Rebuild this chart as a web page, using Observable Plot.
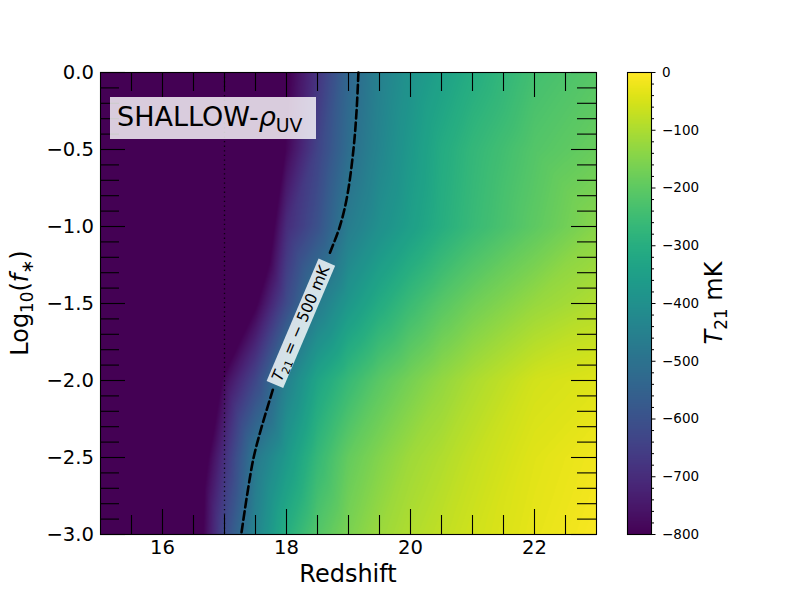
<!DOCTYPE html>
<html>
<head>
<meta charset="utf-8">
<script src="https://cdn.jsdelivr.net/npm/d3@7"></script>
<script src="https://cdn.jsdelivr.net/npm/@observablehq/plot@0.6"></script>
<style>
  body { margin: 0; background: #fff; }
  #wrap { position: relative; width: 800px; height: 600px; font-family: "DejaVu Sans", sans-serif; }
  #wrap > svg { position: absolute; top: 0; overflow: visible; }
</style>
</head>
<body>
<div id="wrap"></div>
<script>
// ---- data ----
const redshifts = [15, 16, 16.5, 17, 17.5, 18, 18.5, 19, 19.5, 20, 20.5, 21, 22, 23];
const logFstar  = [0, -0.5, -1, -1.5, -2, -2.5, -3];
// T21 (mK) along each log10(f*) row, at the redshifts above
const t21_f0    = [-1000,-1000,-1000,-1000,-960,-810,-680,-535,-450,-390,-345,-305,-240,-210];
const t21_fm05  = [-1000,-1000,-1000,-1000,-950,-790,-640,-515,-435,-370,-310,-270,-215,-185];
const t21_fm10  = [-1000,-1000,-1000,-1000,-950,-700,-600,-465,-400,-350,-300,-260,-200,-145];
const t21_fm15  = [-1000,-1000,-1000,-1000,-810,-620,-470,-375,-310,-255,-210,-175,-125,-95];
const t21_fm20  = [-1000,-1000,-1000,-780,-630,-450,-330,-260,-205,-165,-130,-100,-55,-40];
const t21_fm25  = [-1000,-1000,-900,-690,-480,-370,-265,-190,-150,-115,-95,-72,-38,-18];
const t21_fm30  = [-1000,-1000,-880,-620,-440,-300,-215,-160,-120,-95,-75,-58,-30,-8];
const t21Rows = [t21_f0, t21_fm05, t21_fm10, t21_fm15, t21_fm20, t21_fm25, t21_fm30];

// T21 = -500 mK contour (two pieces, split by the label)
const contourUpperZ = [19.16, 19.13, 19.08, 18.98, 18.86, 18.68];
const contourUpperF = [0, -0.25, -0.5, -0.8, -1.0, -1.19];
const contourLowerZ = [17.78, 17.6, 17.47, 17.37, 17.27];
const contourLowerF = [-2.06, -2.3, -2.5, -2.73, -3.0];
const contourLabel = {z: 18.24, f: -1.632, text: "= − 500 mK"};

const dottedZ = [17];

const xMajorTicks = [16, 18, 20, 22];
const xMinorTicks = [15.5, 16.5, 17, 17.5, 18.5, 19, 19.5, 20.5, 21, 21.5, 22.5];
const yMajorTicks = [0, -0.5, -1, -1.5, -2, -2.5, -3];
const yMinorTicks = [-0.1,-0.2,-0.3,-0.4,-0.6,-0.7,-0.8,-0.9,-1.1,-1.2,-1.3,-1.4,-1.6,-1.7,-1.8,-1.9,-2.1,-2.2,-2.3,-2.4,-2.6,-2.7,-2.8,-2.9];
const cbMajorTicks = [0, -100, -200, -300, -400, -500, -600, -700, -800];
const cbMinorTicks = [-20,-40,-60,-80,-120,-140,-160,-180,-220,-240,-260,-280,-320,-340,-360,-380,-420,-440,-460,-480,-520,-540,-560,-580,-620,-640,-660,-680,-720,-740,-760,-780];

// ---- build table ----
const grid = [];
logFstar.forEach((f, i) => redshifts.forEach((z, j) => grid.push({z, f, t: t21Rows[i][j]})));
const upper = contourUpperZ.map((z, i) => ({z, f: contourUpperF[i]}));
const lower = contourLowerZ.map((z, i) => ({z, f: contourLowerF[i]}));

const W = 800, H = 600;
const mL = 100, mR = 204, mT = 72, mB = 66;
const fw = W - mL - mR, fh = H - mT - mB;
const colorOpts = {type: "linear", scheme: "viridis", domain: [-800, 0], clamp: true};

const main = Plot.plot({
  width: W, height: H,
  marginLeft: mL, marginRight: mR, marginTop: mT, marginBottom: mB,
  style: {fontFamily: "DejaVu Sans", fontSize: "19.6px", color: "black", background: "white"},
  x: {domain: [15, 23], ticks: xMajorTicks, tickSize: 0, tickPadding: 6, label: null},
  y: {domain: [-3, 0], ticks: yMajorTicks, tickSize: 0, tickPadding: 6.5, tickFormat: d3.format(".1f"), label: null},
  color: colorOpts,
  marks: [
    Plot.raster(grid, {x: "z", y: "f", fill: "t", interpolate: "barycentric", x1: 15, x2: 23, y1: -3, y2: 0}),
    Plot.ruleX(dottedZ, {stroke: "black", strokeOpacity: 0.8, strokeWidth: 1.3, strokeDasharray: "1.3,3.3"}),
    Plot.line(upper, {x: "z", y: "f", curve: "catmull-rom", stroke: "black", strokeWidth: 2.6, strokeDasharray: "8.5,4"}),
    Plot.line(lower, {x: "z", y: "f", curve: "catmull-rom", stroke: "black", strokeWidth: 2.6, strokeDasharray: "8.5,4"}),
    // inward ticks on all four sides
    Plot.ruleX(xMajorTicks, {insetTop: fh - 25, strokeWidth: 1.1}),
    Plot.ruleX(xMajorTicks, {insetBottom: fh - 25, strokeWidth: 1.1}),
    Plot.ruleX(xMinorTicks, {insetTop: fh - 19, strokeWidth: 1.1}),
    Plot.ruleX(xMinorTicks, {insetBottom: fh - 19, strokeWidth: 1.1}),
    Plot.ruleY(yMajorTicks, {insetRight: fw - 25, strokeWidth: 1.1}),
    Plot.ruleY(yMajorTicks, {insetLeft: fw - 25, strokeWidth: 1.1}),
    Plot.ruleY(yMinorTicks, {insetRight: fw - 19, strokeWidth: 1.1}),
    Plot.ruleY(yMinorTicks, {insetLeft: fw - 19, strokeWidth: 1.1}),
    Plot.frame({stroke: "black", strokeWidth: 1.1})
  ]
});

const cbLeft = 627, cbWidth = 24;
const cb = Plot.plot({
  width: W - cbLeft, height: H,
  marginLeft: 0, marginRight: W - cbLeft - cbWidth, marginTop: mT, marginBottom: mB,
  style: {fontFamily: "DejaVu Sans", fontSize: "13.5px", color: "black", background: "transparent"},
  x: {domain: [0, 1], axis: null},
  y: {domain: [-800, 0], label: null},
  color: colorOpts,
  marks: [
    Plot.raster({x1: 0, x2: 1, y1: -800, y2: 0, fill: (x, y) => y}),
    Plot.axisY(cbMajorTicks, {anchor: "right", tickSize: 3.5, tickPadding: 7, label: null, strokeWidth: 1}),
    Plot.axisY(cbMinorTicks, {anchor: "right", tickSize: 2, tickFormat: () => "", label: null, strokeWidth: 1}),
    Plot.frame({stroke: "black", strokeWidth: 1.1})
  ]
});

const wrap = document.getElementById("wrap");
main.style.left = "0px";
cb.style.left = cbLeft + "px";
wrap.appendChild(main);
wrap.appendChild(cb);

// ---- rich text helpers (italic / subscripts) ----
function richText(parent, parts, size, anchor = "start") {
  const t = parent.append("text")
    .attr("font-family", "DejaVu Sans")
    .attr("font-size", size)
    .attr("text-anchor", anchor)
    .attr("fill", "black");
  let shift = 0;
  for (const p of parts) {
    const target = p.sub ? size * 0.22 : 0;
    const s = t.append("tspan").text(p.t).attr("dy", target - shift);
    shift = target;
    if (p.sub) s.attr("font-size", size * 0.7);
    if (p.it) s.attr("font-style", "italic");
  }
  return t;
}

const svg = d3.select(main);
const sx = main.scale("x"), sy = main.scale("y");

// axis labels
richText(svg.append("g").attr("transform", `translate(${(mL + W - mR) / 2},582)`),
  [{t: "Redshift"}], 24, "middle");
richText(svg.append("g").attr("transform", `translate(28,${mT + fh / 2}) rotate(-90)`),
  [{t: "Log"}, {t: "10", sub: true}, {t: "("}, {t: "f", it: true}, {t: "∗", sub: true}, {t: ")"}], 24, "middle");

// SHALLOW label box
svg.append("rect").attr("x", 110).attr("y", 97).attr("width", 206).attr("height", 42)
  .attr("fill", "white").attr("fill-opacity", 0.8);
richText(svg.append("g").attr("transform", "translate(117,126)"),
  [{t: "SHALLOW-"}, {t: "ρ", it: true}, {t: "UV", sub: true}], 27, "start");

// contour label
const lx = sx.apply(contourLabel.z), ly = sy.apply(contourLabel.f);
const lg = svg.append("g").attr("transform", `translate(${lx},${ly}) rotate(-67)`);
lg.append("rect").attr("x", -66.5).attr("y", -9).attr("width", 133).attr("height", 18)
  .attr("fill", "white").attr("fill-opacity", 0.8);
richText(lg.append("g").attr("transform", "translate(0,5)"),
  [{t: "T", it: true}, {t: "21", sub: true}, {t: " " + contourLabel.text}], 15.5, "middle");

// colorbar label
const csvg = d3.select(cb);
richText(csvg.append("g").attr("transform", `translate(${722 - cbLeft},${mT + fh / 2}) rotate(-90)`),
  [{t: "T", it: true}, {t: "21", sub: true}, {t: " mK"}], 24, "middle");
</script>
</body>
</html>
